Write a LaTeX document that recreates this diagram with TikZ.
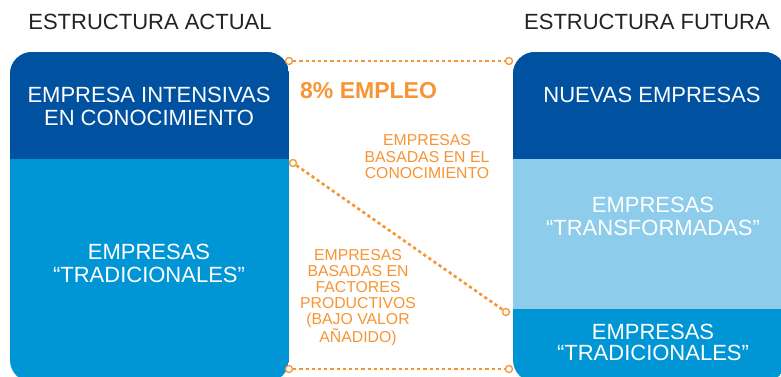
\documentclass[tikz,border=0pt]{standalone}
\usepackage{fontspec}
\setmainfont{Liberation Sans}
\usetikzlibrary{calc}

\definecolor{azuloscuro}{RGB}{0,82,160}
\definecolor{azulmedio}{RGB}{0,150,214}
\definecolor{azulclaro}{RGB}{142,204,235}
\definecolor{naranja}{RGB}{247,148,51}
\definecolor{gristitulo}{RGB}{35,35,35}

\tikzset{
  caja/.style={text=white, font=\fontsize{22}{23}\selectfont, align=center},
  titulo/.style={text=gristitulo, font=\fontsize{22}{24}\selectfont},
  nota/.style={text=naranja, font=\fontsize{15.8}{16.5}\selectfont, align=center},
  punto/.style={circle, draw=naranja, fill=white, line width=1.3pt, inner sep=0pt, minimum size=7pt},
  enlace/.style={naranja, line width=2.6pt, dash pattern=on 3.2pt off 3pt},
}

\begin{document}
\begin{tikzpicture}[x=1pt,y=-1pt]
		\useasboundingbox (0,0) rectangle (781,376);
		
		% estructura actual
		\begin{scope}
			\clip[rounded corners=22pt] (10,52) rectangle (289,382);
			\fill[azulmedio] (10,52) rectangle (289,382);
			\fill[azuloscuro] (10,52) rectangle (289,159);
		\end{scope}
		
		% estructura futura
		\begin{scope}
			\clip[rounded corners=22pt] (513,52) rectangle (786,382);
			\fill[azulmedio] (513,52) rectangle (786,382);
			\fill[azulclaro] (513,159) rectangle (786,309);
			\fill[azuloscuro] (513,52) rectangle (786,159);
		\end{scope}
		
		\node[titulo] (tact) at (150,21.5) {ESTRUCTURA ACTUAL};
		\node[titulo] (tfut) at (647,21.5) {ESTRUCTURA FUTURA};
		
		\node[caja] (intensivas) at (149,106.5) {EMPRESA INTENSIVAS\\EN CONOCIMIENTO};
		\node[caja] (tradact) at (149,263.5) {EMPRESAS\\“TRADICIONALES”};
		\node[caja] (nuevas) at (652,95) {NUEVAS EMPRESAS};
		\node[caja] (transf) at (653,216.5) {EMPRESAS\\“TRANSFORMADAS”};
		\node[caja, font=\fontsize{22}{21}\selectfont] (tradfut) at (653,342) {EMPRESAS\\“TRADICIONALES”};
		
		\node[text=naranja, font=\bfseries\fontsize{23}{24}\selectfont, anchor=west, inner sep=0pt] (empleo) at (300,91) {8\% EMPLEO};
		\node[nota] (conoc) at (427,157) {EMPRESAS\\BASADAS EN EL\\CONOCIMIENTO};
		\node[nota, font=\fontsize{15.8}{16}\selectfont] (factores) at (358,298) {EMPRESAS\\BASADAS EN\\FACTORES\\PRODUCTIVOS\\(BAJO VALOR\\AÑADIDO)};
		
		% puntos y enlaces
		\node[punto] (a1) at (289,61) {};
		\node[punto] (b1) at (509,61) {};
		\node[punto] (a2) at (293,163) {};
		\node[punto] (b2) at (506,312) {};
		\node[punto] (a3) at (289,369) {};
		\node[punto] (b3) at (509,369) {};
		\draw[enlace] (a1) -- (b1);
		\draw[enlace] (a2) -- (b2);
		\draw[enlace] (a3) -- (b3);
\end{tikzpicture}
\end{document}
